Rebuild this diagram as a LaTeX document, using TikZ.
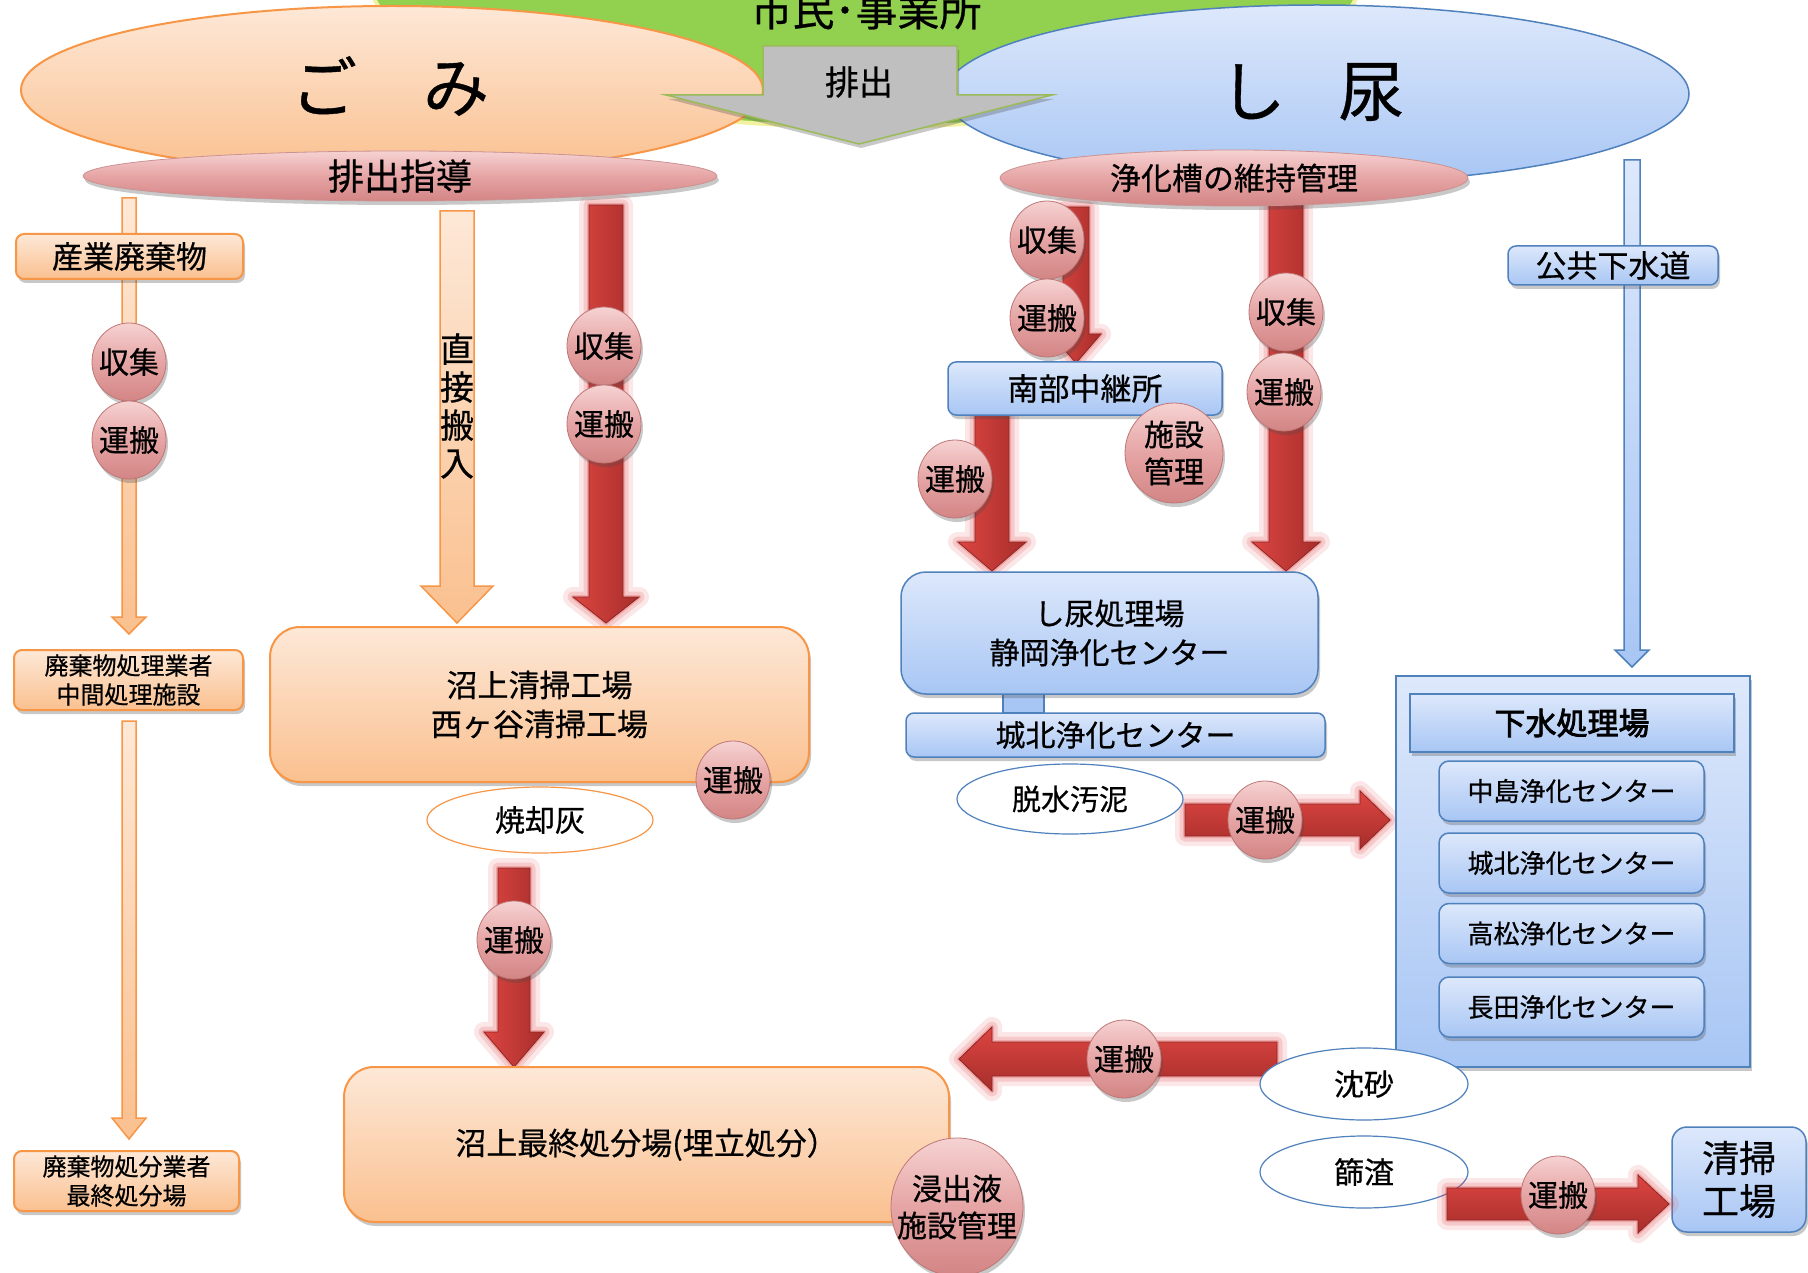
\documentclass[tikz,border=0pt]{standalone}
\usepackage{fontspec}
\setmainfont{Noto Sans CJK JP}[FakeBold=0.6]
\usetikzlibrary{shapes.geometric,shadows}
\definecolor{orT}{HTML}{FDE8D7}
\definecolor{orB}{HTML}{FAC08F}
\definecolor{orD}{HTML}{F79646}
\definecolor{blT}{HTML}{DDE8FB}
\definecolor{blB}{HTML}{A8C6F4}
\definecolor{blD}{HTML}{4F81BD}
\definecolor{pkT}{HTML}{F6D2D2}
\definecolor{pkM}{HTML}{E6A4A4}
\definecolor{pkB}{HTML}{D38585}
\definecolor{pkD}{HTML}{BF7676}
\definecolor{rdL}{HTML}{DD4541}
\definecolor{rdD}{HTML}{A62E2B}
\definecolor{rdE}{HTML}{8C2523}
\definecolor{rdG}{HTML}{E03C3C}
\definecolor{grn}{HTML}{92D050}
\definecolor{ylw}{HTML}{F2F2A0}
\definecolor{gry}{HTML}{BFBFBF}
\definecolor{grnD}{HTML}{9BBB59}
\tikzset{
  fs/.style 2 args={font=\fontsize{#1}{#2}\selectfont},
  shd/.style={drop shadow={opacity=0.3,shadow xshift=2pt,shadow yshift=-4pt,fill=black!70}},
  obox/.style={rectangle, draw=orD, line width=2pt, top color=orT, bottom color=orB, rounded corners=8pt, shd, align=center, inner sep=0pt},
  bbox/.style={rectangle, draw=blD, line width=1.5pt, top color=blT, bottom color=blB, rounded corners=8pt, shd, align=center, inner sep=0pt},
  badge/.style={ellipse, inner sep=0pt, minimum width=74pt, minimum height=78pt, draw=pkD, line width=0.8pt, top color=pkT, bottom color=pkB, middle color=pkM, shd},
  badgetxt/.style={fs={30}{37}, align=center, inner sep=0pt},
  wellipse/.style={ellipse, inner sep=0pt, fill=white, line width=1.2pt, fs={30}{36}},
  pinkell/.style={ellipse, inner sep=0pt, draw=pkD!80, line width=0.8pt, top color=pkT, bottom color=pkB, middle color=pkM, shd},
  redfill/.style={left color=rdL, right color=rdD, draw=rdE, line width=0.8pt},
  redfillh/.style={top color=rdL, bottom color=rdD, draw=rdE, line width=0.8pt},
  glowA/.style={draw=rdG, line width=20pt, opacity=0.12, line join=round},
  glowB/.style={draw=rdG, line width=11pt, opacity=0.17, line join=round},
  glowC/.style={draw=rdG, line width=4pt, opacity=0.25, line join=round},
  orarrow/.style={top color=orT, bottom color=orB, draw=orD, line width=1.5pt},
  blarrow/.style={top color=blT, bottom color=blB, draw=blD, line width=1.5pt},
}
% vertical block arrow: style, x, top, headstart, tip, halfshaft, halfhead
\newcommand\VB[7]{\path[#1] (#2-#6,#3) -- (#2+#6,#3) -- (#2+#6,#4) -- (#2+#7,#4) -- (#2,#5) -- (#2-#7,#4) -- (#2-#6,#4) -- cycle;}
% horizontal block arrow: style, y, start, headstart, tip, halfshaft, halfhead
\newcommand\HB[7]{\path[#1] (#3,#2-#6) -- (#4,#2-#6) -- (#4,#2-#7) -- (#5,#2) -- (#4,#2+#7) -- (#4,#2+#6) -- (#3,#2+#6) -- cycle;}
\newcommand\RV[6]{\VB{glowA}{#1}{#2}{#3}{#4}{#5}{#6}\VB{glowB}{#1}{#2}{#3}{#4}{#5}{#6}\VB{glowC}{#1}{#2}{#3}{#4}{#5}{#6}\VB{redfill}{#1}{#2}{#3}{#4}{#5}{#6}}
\newcommand\RH[6]{\HB{glowA}{#1}{#2}{#3}{#4}{#5}{#6}\HB{glowB}{#1}{#2}{#3}{#4}{#5}{#6}\HB{glowC}{#1}{#2}{#3}{#4}{#5}{#6}\HB{redfillh}{#1}{#2}{#3}{#4}{#5}{#6}}
\newcommand\badge[4][]{\node[badge,#1] (#2) at (#3) {}; \node[badgetxt] (#2t) at (#2.center) {#4};}
\begin{document}
\begin{tikzpicture}[x=1pt,y=-1pt]
\useasboundingbox (0,0) rectangle (1808,1273);
\clip (0,0) rectangle (1808,1273);
\fill[white] (0,0) rectangle (1808,1273);
% top
\node[ellipse, minimum width=992pt, minimum height=300pt, fill=grn, draw=ylw, line width=4pt, inner sep=0pt] (citizens) at (865,-23) {};
\node[fs={42}{46}] (citizenslbl) at (866,10) {市民･事業所};
\node[ellipse, minimum width=742pt, minimum height=168pt, draw=orD, line width=2pt, top color=orT, bottom color=orB, inner sep=0pt] (gomi) at (392,90) {};
\node[fs={66}{70}] (gomilbl) at (390,86) {ご　み};
\node[ellipse, minimum width=744pt, minimum height=178pt, draw=blD, line width=1.5pt, top color=blT, bottom color=blB, inner sep=0pt] (shinyo) at (1317,94) {};
\node[fs={66}{70}] (shinyolbl) at (1312,92) {し\hspace{0.8em}尿};
\path[fill=gry, draw=grnD, line width=1.5pt, shd] (763,46) -- (957,46) -- (957,95) -- (1052,95) -- (859,144) -- (666,95) -- (763,95) -- cycle;
\node[fs={34}{38}] (haishutsu) at (859,82) {排出};
% arrows
\VB{orarrow}{129}{198}{617}{634}{7}{17}
\VB{orarrow}{129}{721}{1118}{1139}{7}{17}
\VB{orarrow}{457}{211}{586}{623}{17}{36}
\VB{blarrow}{1632}{160}{650}{667}{8}{17}
\RV{606}{205}{597}{623}{17}{33}
\RV{514}{868}{1032}{1067}{16}{30}
\RV{1076}{207}{334}{363}{13}{25}
\RV{992}{415}{542}{571}{17}{34}
\RV{1286}{205}{542}{571}{17}{34}
\RH{820}{1185}{1360}{1390}{16}{29}
\node[fs={34}{38}, align=center, inner sep=0pt] (chokusetsu) at (457,406) {直\\接\\搬\\入};
% pink ellipses
\node[pinkell, minimum width=634pt, minimum height=50pt] (shidou) at (400,176) {};
\node[fs={36}{40}] (shidoulbl) at (400,176) {排出指導};
\node[pinkell, minimum width=468pt, minimum height=56pt] (jokaso) at (1234,178) {};
\node[fs={31}{36}] (jokasolbl) at (1234,178) {浄化槽の維持管理};
% orange boxes
\node[obox, minimum width=227pt, minimum height=45pt, fs={31}{36}] (sangyo) at (129.5,256.5) {産業廃棄物};
\node[obox, minimum width=229pt, minimum height=60pt, fs={24}{29}] (chukan) at (128.5,680) {廃棄物処理業者\\中間処理施設};
\node[obox, minimum width=225pt, minimum height=60pt, fs={24}{29}] (saishu) at (126.5,1181) {廃棄物処分業者\\最終処分場};
\node[obox, rounded corners=30pt, minimum width=539pt, minimum height=155pt, fs={31}{39}] (numakami) at (539.5,704.5) {沼上清掃工場\\西ヶ谷清掃工場};
\node[obox, rounded corners=30pt, minimum width=605pt, minimum height=155pt, fs={31}{36}] (landfill) at (646.5,1144.5) {沼上最終処分場(埋立処分）};
% blue boxes
\node[bbox, minimum width=274pt, minimum height=53pt, fs={31}{36}] (nanbu) at (1085,388.5) {南部中継所};
\node[rectangle, fill=blB, draw=blD, line width=1.5pt, minimum width=41pt, minimum height=19pt] (conn) at (1023.5,703.5) {};
\node[bbox, rounded corners=25pt, minimum width=417pt, minimum height=122pt, fs={30}{39}] (shinyoplant) at (1109.5,633) {し尿処理場\\静岡浄化センター};
\node[bbox, minimum width=419pt, minimum height=44pt, fs={30}{36}] (johoku) at (1115.5,735) {城北浄化センター};
\node[bbox, minimum width=210pt, minimum height=39pt, fs={31}{36}] (kokyo) at (1613,265.5) {公共下水道};
\node[bbox, rounded corners=0pt, minimum width=354pt, minimum height=391pt] (gesui) at (1573,871.5) {};
\node[bbox, rounded corners=0pt, line width=2pt, minimum width=324pt, minimum height=58pt, fs={31}{36}] (gesuihead) at (1572,723) {\addfontfeature{FakeBold=2.5}下水処理場};
\node[bbox, rounded corners=10pt, minimum width=265pt, minimum height=60pt, fs={26}{30}] (nakajima) at (1571.5,791) {中島浄化センター};
\node[bbox, rounded corners=10pt, minimum width=265pt, minimum height=60pt, fs={26}{30}] (johoku2) at (1571.5,863) {城北浄化センター};
\node[bbox, rounded corners=10pt, minimum width=265pt, minimum height=60pt, fs={26}{30}] (takamatsu) at (1571.5,933.5) {高松浄化センター};
\node[bbox, rounded corners=10pt, minimum width=265pt, minimum height=60pt, fs={26}{30}] (osada) at (1571.5,1007) {長田浄化センター};
\node[bbox, rounded corners=15pt, minimum width=134pt, minimum height=105pt, fs={37}{43}] (seiso) at (1739,1179.5) {清掃\\工場};
% white ellipses and horizontal arrows
\node[wellipse, draw=orD, minimum width=226pt, minimum height=66pt] (shokyaku) at (540,820) {焼却灰};
\node[wellipse, draw=blD, minimum width=226pt, minimum height=70pt, fs={29}{34}] (dassui) at (1070,799) {脱水汚泥};
\RH{1059}{1277}{992}{959}{17}{32}
\node[wellipse, draw=blD, minimum width=208pt, minimum height=72pt] (chinsa) at (1364,1084) {沈砂};
\node[wellipse, draw=blD, minimum width=208pt, minimum height=72pt] (shisa) at (1364,1172) {篩渣};
\RH{1204}{1447}{1638}{1669}{16}{29}
% badges
\badge{b1}{129,362}{収集}
\badge{b2}{129,440}{運搬}
\badge{b3}{604,346}{収集}
\badge{b4}{604,424}{運搬}
\badge{b5}{733,780}{運搬}
\badge{b6}{514,940}{運搬}
\badge[minimum width=132pt, minimum height=138pt]{b7}{957,1207}{浸出液\\施設管理}
\badge{b8}{1047,240}{収集}
\badge{b9}{1047,318}{運搬}
\badge{b10}{955,479}{運搬}
\badge[minimum width=98pt, minimum height=100pt]{b11}{1174,453}{施設\\管理}
\badge{b12}{1286,312}{収集}
\badge{b13}{1284,392}{運搬}
\badge{b14}{1265,820}{運搬}
\badge{b15}{1124,1059}{運搬}
\badge{b16}{1558,1195}{運搬}
\end{tikzpicture}
\end{document}
